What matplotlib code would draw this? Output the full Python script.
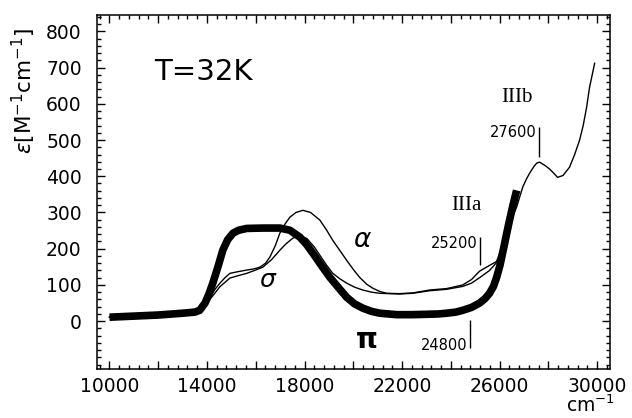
import matplotlib.pyplot as plt
from matplotlib.ticker import MultipleLocator, FixedLocator, FuncFormatter

plt.rcParams['font.family'] = ['DejaVu Sans']
plt.rcParams['mathtext.fontset'] = 'dejavusans'

# pi polarisation (thick curve)
pi_x = [10000, 11000, 12000, 13000, 13500, 13700, 13920, 14080, 14240, 14450,
        14650, 14850, 15070, 15300, 15630, 16300, 16990, 17400, 17810, 18080,
        18340, 18700, 19040, 19400, 19730, 20050, 20390, 20750, 21090, 21780,
        22440, 23000, 23500, 23830, 24200, 24490, 24850, 25180, 25400, 25590,
        25750, 25880, 26020, 26150, 26280, 26410, 26550, 26700]
pi_y = [11, 14, 17, 22, 25, 30, 50, 75, 105, 150,
        196, 225, 243, 251, 256, 257, 257, 251, 232, 212,
        188, 153, 121, 92, 66, 48, 36, 27, 22, 18,
        18, 19, 20, 22, 25, 30, 38, 50, 62, 77,
        96, 121, 155, 196, 238, 279, 320, 361]

# alpha (thin, extends to 30000)
alpha_x = [10000, 11000, 12000, 13000, 13500, 13800, 14120, 14330, 14530, 14740,
           14940, 15300, 15630, 15900, 16170, 16400, 16580, 16800, 16990, 17200,
           17400, 17650, 17930, 18250, 18630, 18900, 19160, 19450, 19730, 20000,
           20260, 20550, 20800, 21090, 21370, 21890, 22440, 23130, 23830, 24490,
           24850, 25180, 25590, 25880, 26020, 26150, 26280, 26410, 26560, 26700,
           26950, 27100, 27230, 27400, 27520, 27640, 27760, 27900, 28050, 28200,
           28380, 28600, 28870, 29080, 29280, 29430, 29570, 29690, 29800, 29900]
alpha_y = [11, 14, 17, 22, 25, 32, 66, 88, 105, 120,
           132, 137, 141, 144, 149, 160, 177, 208, 243, 268,
           287, 300, 306, 300, 279, 252, 223, 195, 168, 143,
           121, 102, 91, 82, 77, 76, 78, 86, 90, 100,
           115, 138, 154, 165, 190, 215, 243, 270, 293, 315,
           370, 392, 408, 426, 436, 439, 434, 428, 420, 410,
           397, 402, 425, 460, 499, 540, 590, 645, 680, 712]

# sigma (thin, ends with pi)
sigma_x = [10000, 11000, 12000, 13000, 13500, 13800, 14120, 14530, 14940, 15300,
           15630, 15950, 16290, 16650, 16990, 17250, 17520, 17800, 18100, 18400,
           18700, 18900, 19160, 19450, 19730, 20050, 20390, 20750, 21090, 21890,
           22440, 23130, 23830, 24490, 24850, 25180, 25590, 25880, 26100, 26300,
           26500]
sigma_y = [11, 14, 17, 22, 25, 30, 60, 95, 119, 126,
           132, 140, 149, 170, 196, 214, 229, 236, 228, 205,
           175, 155, 132, 117, 105, 94, 86, 80, 77, 75,
           77, 84, 88, 96, 105, 120, 140, 162, 205, 255,
           305]

# band markers: position, label, line bottom, line top
mark_pos = [24800, 25200, 27600]
mark_lbl = ['24800', '25200', '27600']
mark_lo = [-74, 154, 452]
mark_hi = [3, 232, 535]

x_major = list(range(10000, 30001, 2000))
x_labeled = [10000, 14000, 18000, 22000, 26000, 30000]

fig = plt.figure(figsize=(6.32, 4.18), dpi=100)
ax = fig.add_axes([0.1535, 0.1172, 0.8117, 0.8469])

ax.plot(pi_x, pi_y, color='black', lw=5.5, solid_capstyle='butt', solid_joinstyle='round')
ax.plot(alpha_x, alpha_y, color='black', lw=1.0)
ax.plot(sigma_x, sigma_y, color='black', lw=1.0)

ax.vlines(mark_pos, mark_lo, mark_hi, color='black', lw=1.0)
ax.text(24700, -66, mark_lbl[0], ha='right', va='center', fontsize=10.5)
ax.text(25100, 215, mark_lbl[1], ha='right', va='center', fontsize=10.5)
ax.text(27500, 521, mark_lbl[2], ha='right', va='center', fontsize=10.5)

ax.text(24652, 320, 'IIIa', ha='center', va='center', fontsize=15, family='Liberation Serif')
ax.text(26700, 618, 'IIIb', ha='center', va='center', fontsize=15, family='Liberation Serif')

ax.text(11850, 687, 'T=32K', ha='left', va='center', fontsize=21)
ax.text(20390, 223, r'$\alpha$', ha='center', va='center', fontsize=19)
ax.text(16496, 113, r'$\sigma$', ha='center', va='center', fontsize=18)
ax.text(20512, -52, r'$\mathbf{\pi}$', ha='center', va='center', fontsize=20,
        fontweight='bold')

ax.set_xlim(9490, 30530)
ax.set_ylim(-132, 845)

ax.xaxis.set_major_locator(FixedLocator(x_major))
ax.xaxis.set_major_formatter(FuncFormatter(
    lambda v, p: f'{int(v)}' if int(round(v)) in x_labeled else ''))
ax.xaxis.set_minor_locator(MultipleLocator(400))
ax.set_yticks(range(0, 801, 100))
ax.yaxis.set_minor_locator(MultipleLocator(20))

ax.tick_params(which='both', direction='in', top=True, right=True, width=1.0)
ax.tick_params(which='major', length=6, labelsize=13.5)
ax.tick_params(which='minor', length=3)
ax.tick_params(axis='x', which='major', pad=6)
ax.tick_params(axis='y', which='major', pad=11)
for s in ax.spines.values():
    s.set_linewidth(1.1)

ax.set_ylabel(r'$\varepsilon$[M$^{-1}$cm$^{-1}$]', fontsize=15.5)
ax.yaxis.set_label_coords(-0.115, 0.785)
fig.text(0.934, 0.004, r'cm$^{-1}$', ha='center', va='bottom', fontsize=13.5)

fig.savefig('out.png', dpi=100)
